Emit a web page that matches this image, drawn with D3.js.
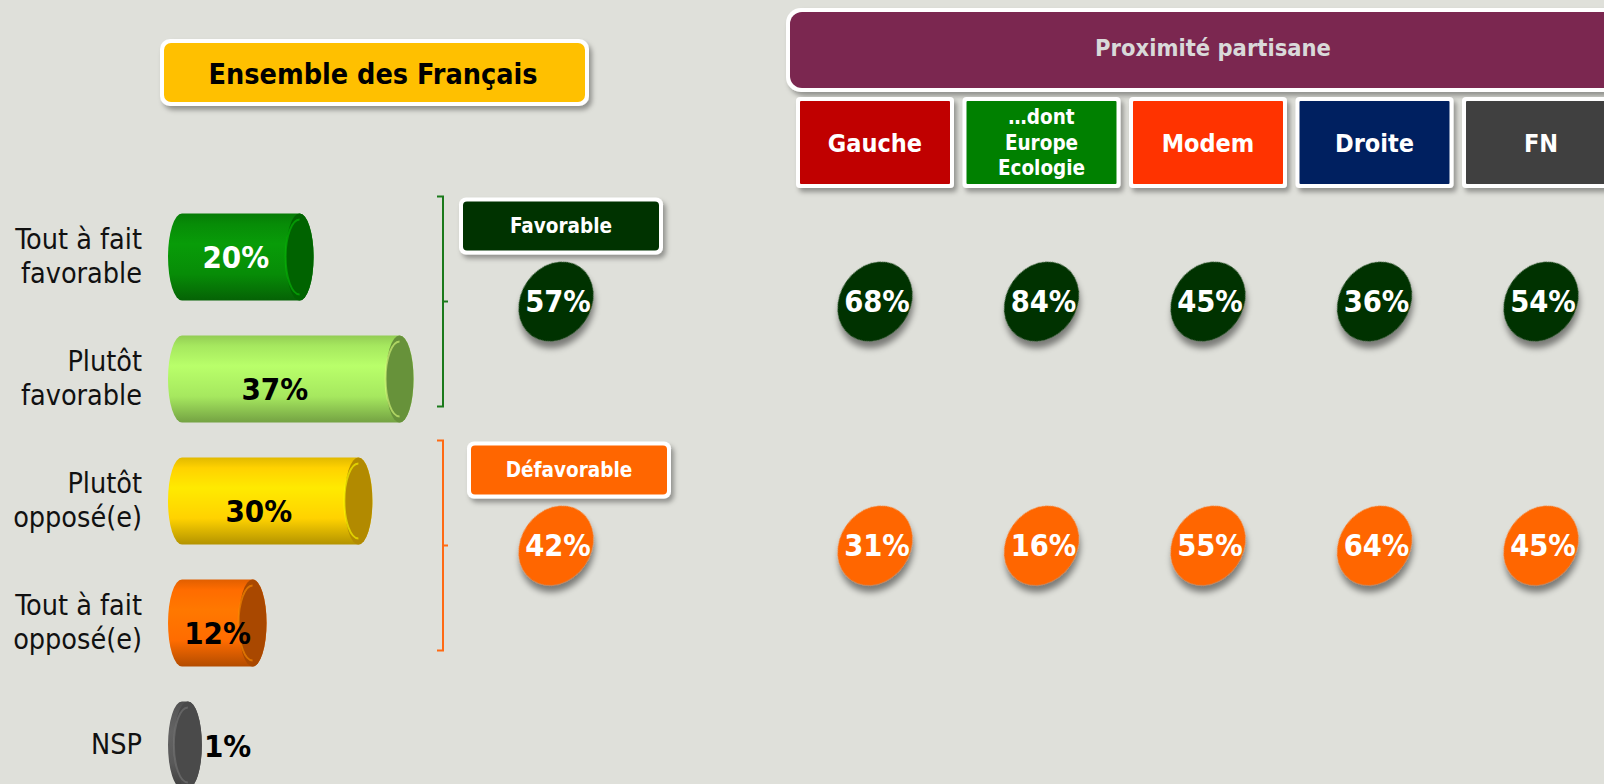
<!DOCTYPE html>
<html>
<head>
<meta charset="utf-8">
<script src="https://cdn.jsdelivr.net/npm/d3@7"></script>
<style>
html, body { margin: 0; padding: 0; background: #dfe0da; overflow: hidden; }
svg { display: block; }
text { font-family: "DejaVu Sans Condensed", "DejaVu Sans", sans-serif; font-stretch: condensed; }
</style>
</head>
<body>
<script>
// answers, whole sample
var categories = ["Tout à fait favorable", "Plutôt favorable", "Plutôt opposé(e)", "Tout à fait opposé(e)", "NSP"];
var categoryLines = [["Tout à fait", "favorable"], ["Plutôt", "favorable"], ["Plutôt", "opposé(e)"], ["Tout à fait", "opposé(e)"], ["NSP"]];
var values = [20, 37, 30, 12, 1];

// grouped totals
var groups = ["Favorable", "Défavorable"];
var groupMembers = [[0, 1], [2, 3]];
var groupTotals = [57, 42];

// by party
var parties = ["Gauche", "…dont Europe Ecologie", "Modem", "Droite", "FN"];
var partyLines = [["Gauche"], ["…dont", "Europe", "Ecologie"], ["Modem"], ["Droite"], ["FN"]];
var partyFavorable = [68, 84, 45, 36, 54];
var partyDefavorable = [31, 16, 55, 64, 45];

// colours
var barColors = ["#078c07", "#a6e85f", "#ffd200", "#ff6c00", "#595959"];
var capColors = ["#006300", "#67923a", "#b28a00", "#a94800", "#4a4a4a"];
var groupColors = ["#003300", "#ff6600"];
var bracketColors = ["#1b7a1b", "#ff6a13"];
var partyColors = ["#c00000", "#008000", "#ff3300", "#002060", "#404040"];

var W = 1604, H = 784;

var svg = d3.select("body").append("svg")
    .attr("width", W)
    .attr("height", H);

svg.append("rect").attr("width", W).attr("height", H).attr("fill", "#dfe0da");

var defs = svg.append("defs");

var boxShadow = defs.append("filter").attr("id", "boxShadow")
    .attr("x", "-10%").attr("y", "-20%").attr("width", "130%").attr("height", "160%");
boxShadow.append("feDropShadow")
    .attr("dx", 3).attr("dy", 4).attr("stdDeviation", 2.5)
    .attr("flood-color", "#000").attr("flood-opacity", 0.35);

var blobShadow = defs.append("filter").attr("id", "blobShadow")
    .attr("x", "-30%").attr("y", "-30%").attr("width", "170%").attr("height", "170%");
blobShadow.append("feDropShadow")
    .attr("dx", 5).attr("dy", 5).attr("stdDeviation", 3)
    .attr("flood-color", "#000").attr("flood-opacity", 0.45);

//vertical shading of each cylinder
barColors.forEach(function(c, i) {
  var col = d3.color(c);
  var g = defs.append("linearGradient").attr("id", "grad" + i)
      .attr("x1", 0).attr("y1", 0).attr("x2", 0).attr("y2", 1);
  g.append("stop").attr("offset", "0%").attr("stop-color", col.darker(0.35));
  g.append("stop").attr("offset", "12%").attr("stop-color", col);
  g.append("stop").attr("offset", "35%").attr("stop-color", col.brighter(0.3));
  g.append("stop").attr("offset", "70%").attr("stop-color", col);
  g.append("stop").attr("offset", "100%").attr("stop-color", col.darker(1));
});

// ---------- left panel: title box ----------
function drawBox(parent, x0, y0, w, h, r, fill) {
  var g = parent.append("g");
  g.append("rect")
      .attr("x", x0).attr("y", y0).attr("width", w).attr("height", h)
      .attr("rx", r).attr("fill", "#fff")
      .attr("filter", "url(#boxShadow)");
  g.append("rect")
      .attr("x", x0 + 4).attr("y", y0 + 4).attr("width", w - 8).attr("height", h - 8)
      .attr("rx", Math.max(r - 3, 1)).attr("fill", fill);
  return g;
}

drawBox(svg, 160, 39, 429, 67, 10, "#ffc000")
  .append("text")
    .attr("x", 373).attr("y", 84)
    .attr("text-anchor", "middle")
    .style("font-weight", "bold").style("font-size", "28.5px")
    .attr("fill", "#000")
    .text("Ensemble des Français");

// ---------- cylinders ----------
var y = d3.scaleBand()
    .domain(categories)
    .range([196, 806])
    .paddingInner(0.287)
    .paddingOuter(0.1435);

var x = d3.scaleLinear().domain([0, 100]).range([0, 588]);

var barX = 168, capR = 14;

function mid(c) { return y(c) + y.bandwidth() / 2; }

var bars = svg.append("g").selectAll(".bar")
    .data(values)
  .join("g")
    .attr("class", "bar");

bars.append("path")
    .attr("d", function(d, i) {
      var top = y(categories[i]), bot = top + y.bandwidth(), ry = y.bandwidth() / 2;
      var cx0 = barX + capR, cx1 = cx0 + x(d);
      return "M" + cx0 + "," + top + "L" + cx1 + "," + top +
        "A" + capR + "," + ry + " 0 0 1 " + cx1 + "," + bot +
        "L" + cx0 + "," + bot +
        "A" + capR + "," + ry + " 0 0 1 " + cx0 + "," + top + "Z";
    })
    .attr("fill", function(d, i) { return "url(#grad" + i + ")"; });

bars.append("ellipse")
    .attr("cx", function(d) { return barX + capR + x(d); })
    .attr("cy", function(d, i) { return mid(categories[i]); })
    .attr("rx", capR)
    .attr("ry", y.bandwidth() / 2)
    .attr("fill", function(d, i) { return capColors[i]; });

//light rim on the left of the end cap
bars.append("path")
    .attr("d", function(d, i) {
      var top = y(categories[i]), bot = top + y.bandwidth(), ry = y.bandwidth() / 2;
      var cx1 = barX + capR + x(d);
      return "M" + cx1 + "," + (top + 6) + "A" + capR + "," + (ry - 6) + " 0 0 0 " + cx1 + "," + (bot - 6);
    })
    .attr("fill", "none")
    .attr("stroke", function(d, i) { return d3.color(barColors[i]).brighter(0.8); })
    .attr("stroke-width", 2)
    .attr("stroke-opacity", 0.6);

bars.append("text")
    .attr("x", function(d) { return d < 5 ? barX + 2 * capR + x(d) + 2 : barX + 22 + x(d) * 0.39; })
    .attr("y", function(d, i) { return mid(categories[i]) + (i === 0 ? 11 : (d < 5 ? 12 : 21)); })
    .attr("text-anchor", function(d) { return d < 5 ? "start" : "middle"; })
    .style("font-weight", "bold").style("font-size", "31px")
    .attr("fill", function(d, i) { return i === 0 ? "#fff" : "#000"; })
    .text(function(d) { return d + "%"; });

// category labels
var catLabels = svg.append("g").selectAll(".cat")
    .data(categories)
  .join("text")
    .attr("class", "cat")
    .attr("text-anchor", "end")
    .style("font-size", "28.5px")
    .attr("fill", "#111");

catLabels.selectAll("tspan")
    .data(function(c, i) {
      var lines = categoryLines[i];
      return lines.map(function(l, j) { return { t: l, y: mid(c) + (j - (lines.length - 1) / 2) * 34 + 9 }; });
    })
  .join("tspan")
    .attr("x", 142)
    .attr("y", function(d) { return d.y; })
    .text(function(d) { return d.t; });

// ---------- brackets and group totals ----------
var blobY = [];
groups.forEach(function(gName, gi) {
  var first = categories[groupMembers[gi][0]];
  var last = categories[groupMembers[gi][groupMembers[gi].length - 1]];
  var top = y(first) - 17, bot = y(last) + y.bandwidth() - 16;
  var m = (top + bot) / 2;
  blobY.push(m);
  svg.append("path")
      .attr("d", "M437," + top + "H443V" + bot + "H437M443," + m + "H448")
      .attr("fill", "none")
      .attr("stroke", bracketColors[gi])
      .attr("stroke-width", 2);

  drawBox(svg, 459 + gi * 8, top + 1, 204, 57, 7, groupColors[gi])
    .append("text")
      .attr("x", 561 + gi * 8).attr("y", top + 36)
      .attr("text-anchor", "middle")
      .style("font-weight", "bold").style("font-size", "20.5px")
      .attr("fill", "#fff")
      .text(gName);
});

function blob(parent, cx, cy, fill, label) {
  var g = parent.append("g").attr("transform", "translate(" + cx + "," + cy + ")");
  g.append("ellipse")
      .attr("rx", 35).attr("ry", 42)
      .attr("transform", "rotate(35)")
      .attr("fill", fill)
      .attr("filter", "url(#blobShadow)");
  g.append("text")
      .attr("x", 2).attr("y", 10.5)
      .attr("text-anchor", "middle")
      .style("font-weight", "bold").style("font-size", "30.5px")
      .attr("fill", "#fff")
      .text(label);
}

groupTotals.forEach(function(v, gi) {
  blob(svg, 556, blobY[gi], groupColors[gi], v + "%");
});

// ---------- right panel: parties ----------
drawBox(svg, 786, 8, 860, 84, 15, "#7b2750")
  .append("text")
    .attr("x", 1213).attr("y", 56)
    .attr("text-anchor", "middle")
    .style("font-weight", "bold").style("font-size", "23.5px")
    .attr("fill", "#d9d9d9")
    .text("Proximité partisane");

var xP = d3.scalePoint().domain(parties).range([875, 1541]);
var boxW = 158;

var heads = svg.append("g").selectAll(".party")
    .data(parties)
  .join("g")
    .attr("class", "party");

heads.each(function(p, i) {
  var cx = xP(p);
  var g = drawBox(d3.select(this), cx - boxW / 2, 97, boxW, 91, 4, partyColors[i]);
  var lines = partyLines[i];
  var fs = lines.length > 1 ? 20.5 : 25;
  var step = 25.5;
  g.append("text")
      .attr("text-anchor", "middle")
      .style("font-weight", "bold").style("font-size", fs + "px")
      .attr("fill", "#fff")
    .selectAll("tspan")
    .data(lines)
    .join("tspan")
      .attr("x", cx)
      .attr("y", function(l, j) { return 142.5 + (j - (lines.length - 1) / 2) * step + fs * 0.36; })
      .text(function(l) { return l; });
});

parties.forEach(function(p, i) {
  blob(svg, xP(p), blobY[0], groupColors[0], partyFavorable[i] + "%");
  blob(svg, xP(p), blobY[1], groupColors[1], partyDefavorable[i] + "%");
});
</script>
</body>
</html>
